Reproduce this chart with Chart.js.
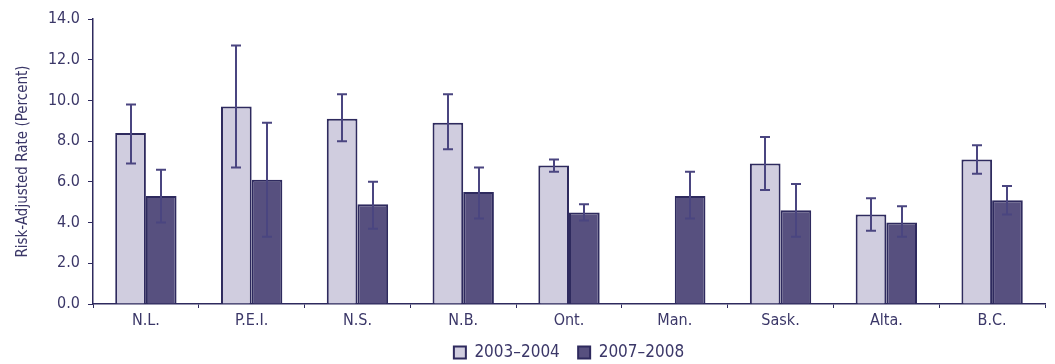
<!DOCTYPE html>
<html>
<head>
<meta charset="utf-8">
<script src="https://cdn.jsdelivr.net/npm/chart.js@4"></script>
<style>
  html, body { margin: 0; padding: 0; background: #fff; }
  #wrap { width: 1055px; height: 364px; }
</style>
</head>
<body>
<div id="wrap"><canvas id="chart"></canvas></div>
<script>
var provinces = ["N.L.", "P.E.I.", "N.S.", "N.B.", "Ont.", "Man.", "Sask.", "Alta.", "B.C."];

var rate0304 = [8.4, 9.7, 9.1, 8.9, 6.8, null, 6.9, 4.4, 7.1];
var low0304 = [6.9, 6.7, 8.0, 7.6, 6.5, null, 5.6, 3.6, 6.4];
var high0304 = [9.8, 12.7, 10.3, 10.3, 7.1, null, 8.2, 5.2, 7.8];

var rate0708 = [5.3, 6.1, 4.9, 5.5, 4.5, 5.3, 4.6, 4.0, 5.1];
var low0708 = [4.0, 3.3, 3.7, 4.2, 4.1, 4.2, 3.3, 3.3, 4.4];
var high0708 = [6.6, 8.9, 6.0, 6.7, 4.9, 6.5, 5.9, 4.8, 5.8];

var yTicks = [0, 2, 4, 6, 8, 10, 12, 14];

var ink = "#2e2a5e";
var whisker = "#4a4580";
var textColor = "#3b3768";
var fontFamily = "'Liberation Sans Narrow', 'DejaVu Sans Condensed', 'Liberation Sans', sans-serif";

// draws the confidence interval whiskers on top of each bar
var errorBars = {
	id: "errorBars",
	afterDatasetsDraw: function (chart) {
		var ctx = chart.ctx;
		var y = chart.scales.y;
		ctx.save();
		ctx.strokeStyle = whisker;
		ctx.lineWidth = 2;
		chart.data.datasets.forEach(function (ds, i) {
			var meta = chart.getDatasetMeta(i);
			meta.data.forEach(function (bar, j) {
				if (ds.data[j] === null) return;
				var x = Math.round(bar.x);
				var top = y.getPixelForValue(ds.high[j]);
				var bottom = y.getPixelForValue(ds.low[j]);
				ctx.beginPath();
				ctx.moveTo(x, top);
				ctx.lineTo(x, bottom);
				ctx.moveTo(x - 5, top);
				ctx.lineTo(x + 5, top);
				ctx.moveTo(x - 5, bottom);
				ctx.lineTo(x + 5, bottom);
				ctx.stroke();
			});
		});
		ctx.restore();
	},
};

var config = {
	type: "bar",
	data: {
		labels: provinces,
		datasets: [
			{
				// em space keeps the two legend entries apart
				label: "2003\u20132004\u2003",
				data: rate0304,
				low: low0304,
				high: high0304,
				backgroundColor: "#d0cddf",
				borderColor: ink,
				borderWidth: 2,
			},
			{
				label: "2007\u20132008",
				data: rate0708,
				low: low0708,
				high: high0708,
				backgroundColor: "#57507f",
				borderColor: ink,
				borderWidth: 2,
			},
		],
	},
	options: {
		responsive: true,
		maintainAspectRatio: false,
		animation: false,
		categoryPercentage: 0.58,
		barPercentage: 1.0,
		layout: { padding: { left: 14, right: 10, top: 19, bottom: -7 } },
		plugins: {
			tooltip: { enabled: false },
			legend: {
				position: "bottom",
				fullSize: false,
				labels: {
					color: textColor,
					font: { family: fontFamily, size: 17 },
					boxWidth: 12,
					boxHeight: 12,
					padding: 3,
				},
			},
		},
		scales: {
			x: {
				afterFit: function (axis) { axis.height = 37; },
				grid: {
					display: true,
					offset: true,
					drawOnChartArea: false,
					drawTicks: true,
					tickLength: 4,
					color: ink,
				},
				border: { color: ink, width: 1.5 },
				ticks: { color: textColor, font: { family: fontFamily, size: 16 }, padding: 3 },
			},
			y: {
				min: 0,
				max: 14,
				afterFit: function (axis) { axis.width = 79; },
				afterBuildTicks: function (axis) {
					axis.ticks = yTicks.map(function (v) { return { value: v }; });
				},
				grid: {
					display: true,
					drawOnChartArea: false,
					drawTicks: true,
					tickLength: 5,
					color: ink,
				},
				border: { color: ink, width: 1.5 },
				ticks: {
					color: textColor,
					font: { family: fontFamily, size: 16 },
					padding: 8,
					callback: function (v) { return Number(v).toFixed(1); },
				},
				title: {
					display: true,
					text: "Risk-Adjusted Rate (Percent)",
					color: textColor,
					font: { family: fontFamily, size: 15 },
					padding: { top: 0, bottom: 0 },
				},
			},
		},
	},
	plugins: [errorBars],
};

new Chart(document.getElementById("chart").getContext("2d"), config);
</script>
</body>
</html>
